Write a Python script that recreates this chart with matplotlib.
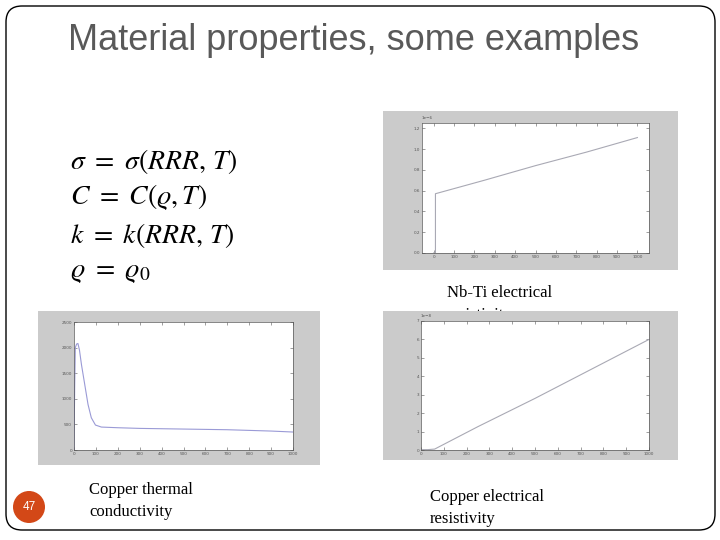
import numpy as np
import matplotlib
matplotlib.use('Agg')
import matplotlib.pyplot as plt
from matplotlib.patches import Rectangle, FancyBboxPatch, Circle

plt.rcParams['mathtext.fontset'] = 'stix'

# Nb-Ti electrical resistivity (Ohm m) vs T (K)
nbti_T = [0, 9, 9, 250, 500, 750, 1000]
nbti_rho = [0, 0, 0.57e-6, 0.70e-6, 0.84e-6, 0.97e-6, 1.11e-6]

# Copper thermal conductivity (W/m/K) vs T (K)
cu_k_T = [0, 3, 6, 12, 18, 25, 34, 49, 64, 79, 98, 125, 200, 300, 500, 700, 900, 1000]
cu_k = [0, 1200, 2000, 2070, 2080, 1950, 1670, 1280, 890, 630, 487, 448, 435, 422, 409, 396, 370, 351]

# Copper electrical resistivity (Ohm m) vs T (K)
cu_rho_T = [0, 30, 60, 250, 500, 750, 1000]
cu_rho = [0.02e-8, 0.02e-8, 0.05e-8, 1.27e-8, 2.80e-8, 4.40e-8, 6.0e-8]

title = 'Material properties, some examples'
equations = [r'$\sigma\ =\ \sigma(RRR,\,T)$', r'$C\ =\ C(\varrho,T)$',
             r'$k\ =\ k(RRR,\,T)$', r'$\varrho\ =\ \varrho_0$']

W, H = 720, 540
fig = plt.figure(figsize=(7.2, 5.4), dpi=100)
bg = fig.add_axes([0, 0, 1, 1])
bg.set_xlim(0, W)
bg.set_ylim(H, 0)
bg.axis('off')

# slide frame
bg.add_patch(FancyBboxPatch((6, 6), 709, 524, boxstyle='round,pad=0,rounding_size=16',
                            fc='white', ec='black', lw=1.0, zorder=0))

bg.text(354, 40, title, ha='center', va='center', fontsize=26,
        color='#595959', family='Liberation Sans')

eq_y = [161, 197, 236, 271]
for e, y in zip(equations, eq_y):
    bg.text(70, y, e, ha='left', va='center', fontsize=20, color='black')

# captions (Nb-Ti caption is partly hidden by the panel below it)
serif = 'Liberation Serif'
bg.text(447, 304, 'Nb-Ti electrical\nresistivity', ha='left', va='center',
        fontsize=12, family=serif, linespacing=1.45, zorder=1)
bg.text(89, 501, 'Copper thermal\nconductivity', ha='left', va='center',
        fontsize=12, family=serif, linespacing=1.45, zorder=1)
bg.text(430, 508, 'Copper electrical\nresistivity', ha='left', va='center',
        fontsize=12, family=serif, linespacing=1.45, zorder=1)

# page number
bg.add_patch(Circle((29, 507), 16, fc='#D34817', ec='none', zorder=2))
bg.text(29, 507, '47', ha='center', va='center', fontsize=8.5, color='white',
        family='Liberation Sans', zorder=3)

# grey panels behind each plot
panels = [(383, 111, 295, 159), (38, 311, 282, 154), (383, 311, 295, 149)]
for x0, y0, w, h in panels:
    bg.add_patch(Rectangle((x0, y0), w, h, fc='#cbcbcb', ec='none', zorder=2))


def pix_axes(x0, y0, x1, y1):
    return fig.add_axes([x0 / W, 1 - y1 / H, (x1 - x0) / W, (y1 - y0) / H])


def matlab_style(ax):
    ax.set_facecolor('white')
    ax.tick_params(direction='in', length=2, width=0.4, labelsize=3,
                   top=True, right=True, colors='#555555', pad=1.5)
    for s in ax.spines.values():
        s.set_linewidth(0.5)
        s.set_color('#555555')
    ax.yaxis.get_offset_text().set_fontsize(3)


# Nb-Ti resistivity
ax1 = pix_axes(422, 123, 649, 253)
ax1.plot(nbti_T, nbti_rho, color='#a9a9b4', lw=0.8)
ax1.set_xlim(-57, 1057)
ax1.set_ylim(0, 1.25e-6)
ax1.set_xticks(np.arange(0, 1001, 100))
ax1.set_yticks(np.arange(0, 1.21e-6, 0.2e-6))
ax1.ticklabel_format(axis='y', style='sci', scilimits=(0, 0))
matlab_style(ax1)

# Copper thermal conductivity
ax2 = pix_axes(74, 322, 293, 450)
ax2.plot(cu_k_T, cu_k, color='#9a9ad6', lw=0.8)
ax2.set_xlim(0, 1000)
ax2.set_ylim(0, 2500)
ax2.set_xticks(np.arange(0, 1001, 100))
ax2.set_yticks(np.arange(0, 2501, 500))
matlab_style(ax2)

# Copper resistivity
ax3 = pix_axes(421, 321, 649, 450)
ax3.plot(cu_rho_T, cu_rho, color='#a9a9b4', lw=0.8)
ax3.set_xlim(0, 1000)
ax3.set_ylim(0, 7e-8)
ax3.set_xticks(np.arange(0, 1001, 100))
ax3.set_yticks(np.arange(0, 7.1e-8, 1e-8))
ax3.ticklabel_format(axis='y', style='sci', scilimits=(0, 0))
matlab_style(ax3)

fig.savefig('out.png', dpi=100, facecolor='white')
